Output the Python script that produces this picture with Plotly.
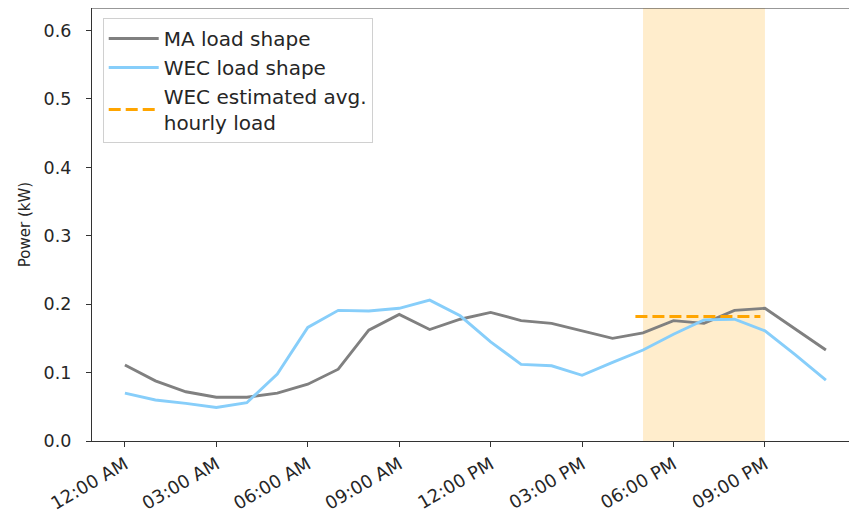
import plotly.graph_objects as go

hours = list(range(24))
ma_load = [0.111, 0.088, 0.072, 0.064, 0.064, 0.070, 0.083, 0.105, 0.162, 0.185,
           0.163, 0.178, 0.188, 0.176, 0.172, 0.161, 0.150, 0.158, 0.176, 0.172,
           0.191, 0.194, 0.163, 0.133]
wec_load = [0.070, 0.060, 0.055, 0.049, 0.056, 0.098, 0.166, 0.191, 0.190, 0.194,
            0.206, 0.183, 0.145, 0.112, 0.110, 0.096, 0.115, 0.133, 0.156, 0.177,
            0.178, 0.161, 0.126, 0.089]
avg_x = [16.75, 20.85]
avg_y = [0.182, 0.182]
peak_window = [17, 21]
tick_hours = [0, 3, 6, 9, 12, 15, 18, 21, 24]
tick_labels = ["12:00 AM", "03:00 AM", "06:00 AM", "09:00 AM",
               "12:00 PM", "03:00 PM", "06:00 PM", "09:00 PM", ""]
y_ticks = [0.0, 0.1, 0.2, 0.3, 0.4, 0.5, 0.6]

font = "DejaVu Sans, Verdana, sans-serif"

fig = go.Figure()
fig.add_trace(go.Scatter(x=hours, y=ma_load, mode="lines", name="MA load shape",
                         line=dict(color="#808080", width=2.9)))
fig.add_trace(go.Scatter(x=hours, y=wec_load, mode="lines", name="WEC load shape",
                         line=dict(color="#87CEFA", width=2.9)))
fig.add_trace(go.Scatter(x=avg_x, y=avg_y, mode="lines",
                         name="WEC estimated avg.<br>hourly load",
                         line=dict(color="#FFA500", width=2.9, dash="12px,5px")))

fig.add_shape(type="rect", x0=peak_window[0], x1=peak_window[1], xref="x",
              y0=0, y1=1, yref="paper", fillcolor="rgba(255,165,0,0.2)",
              line=dict(width=0), layer="below")
# top frame line (right spine falls outside the picture)
fig.add_shape(type="line", x0=0, x1=1, xref="paper", y0=1, y1=1, yref="paper",
              line=dict(color="#333", width=1.2), layer="above")

# page body has an 8px margin, so the figure is offset by 8px in the screenshot
fig.update_layout(
    width=857, height=523,
    margin=dict(l=84, r=8, t=0, b=90),
    paper_bgcolor="white", plot_bgcolor="white",
    font=dict(family=font, size=17, color="#262626"),
    showlegend=True,
    legend=dict(x=0.014, y=0.977, xanchor="left", yanchor="top",
                bgcolor="rgba(255,255,255,0.8)", bordercolor="#d0d0d0", borderwidth=1,
                font=dict(size=20, family=font, color="#262626"),
                tracegroupgap=0, itemwidth=50),
)
fig.update_xaxes(range=[-1.08, 24.02], tickvals=tick_hours, ticktext=tick_labels,
                 tickangle=-30, ticks="outside", ticklen=5, tickcolor="#333",
                 showline=True, linecolor="#333", linewidth=1.2, mirror=False,
                 showgrid=False, zeroline=False, tickfont=dict(size=18),
                 automargin=False)
fig.update_yaxes(range=[0, 0.633], tickvals=y_ticks, tickformat=".1f",
                 ticks="outside", ticklen=5, tickcolor="#333",
                 showline=True, linecolor="#333", linewidth=1.2, mirror=False,
                 showgrid=False, zeroline=False, tickfont=dict(size=17.5),
                 ticklabelstandoff=11,
                 title=dict(text="Power (kW)", font=dict(size=15), standoff=9),
                 automargin=False)

fig.write_html("out.html")
